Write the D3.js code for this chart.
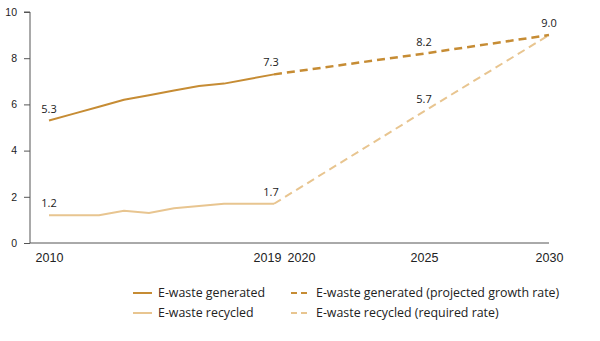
<!DOCTYPE html>
<html lang="en">
<head>
    <meta charset="UTF-8">
    <title>E-waste generated and recycled</title>
    <script src="https://d3js.org/d3.v7.min.js"></script>
    <style>
        body { margin: 0; background: #fff; }
        svg { font-family: "Open Sans", sans-serif; }
        .axis line, .axis path { stroke: #555; }
        .axis text { fill: #222; }
        .line { fill: none; }
        .label { fill: #1a1a1a; font-size: 11px; text-anchor: middle; }
        .legend text { fill: #222; font-size: 12.4px; }
    </style>
</head>
<body>
<div id="container"></div>
<script>
const width = 600, height = 341;

// kg per capita, 2010-2019
const years = [2010, 2011, 2012, 2013, 2014, 2015, 2016, 2017, 2018, 2019];
const generated = [5.3, 5.6, 5.9, 6.2, 6.4, 6.6, 6.8, 6.9, 7.1, 7.3];
const recycled = [1.2, 1.2, 1.2, 1.4, 1.3, 1.5, 1.6, 1.7, 1.7, 1.7];

// projections to 2030
const projYears = [2019, 2025, 2030];
const generatedProj = [7.3, 8.2, 9.0];
const recycledProj = [1.7, 5.7, 9.0];

const yTicks = [0, 2, 4, 6, 8, 10];
const xTickLabels = [2010, 2019, 2020, 2025, 2030];

const darkGold = "#c68c34", lightGold = "#e8c590";

const svg = d3.select("#container").append("svg")
    .attr("width", width)
    .attr("height", height);

const x = d3.scaleLinear().domain([2010, 2030]).range([49, 549]);
const y = d3.scaleLinear().domain([0, 10]).range([243, 12]);

// y axis
const yAxis = svg.append("g")
    .attr("class", "axis")
    .attr("transform", "translate(30,0)")
    .call(d3.axisLeft(y).tickValues(yTicks).tickSize(6).tickPadding(7));
yAxis.select(".domain").attr("d", `M-6,${y(10)}H0V${y(0)}`);
yAxis.selectAll("text").style("font-size", "10.5px");

// x axis: baseline plus year labels, no tick marks
const xAxis = svg.append("g")
    .attr("class", "axis")
    .attr("transform", `translate(0,${y(0)})`)
    .call(d3.axisBottom(x).tickValues(xTickLabels).tickSize(0).tickPadding(10).tickFormat(d3.format("d")));
xAxis.select(".domain").attr("d", `M30,0H${x(2030)}`);
xAxis.selectAll("text")
    .style("font-size", "12.5px")
    .attr("dx", d => d === 2019 ? -7 : d === 2020 ? 2 : 0);

const line = d3.line().x(d => x(d[0])).y(d => y(d[1]));

const series = [
    { xs: projYears, vals: recycledProj, color: lightGold, width: 2, dash: "8,5" },
    { xs: projYears, vals: generatedProj, color: darkGold, width: 2.5, dash: "8,5" },
    { xs: years, vals: recycled, color: lightGold, width: 2, dash: null },
    { xs: years, vals: generated, color: darkGold, width: 2, dash: null }
];

series.forEach(s => {
    svg.append("path")
        .attr("class", "line")
        .attr("d", line(s.xs.map((yr, i) => [yr, s.vals[i]])))
        .attr("stroke", s.color)
        .attr("stroke-width", s.width)
        .attr("stroke-dasharray", s.dash);
});

// value labels
const labelled = [
    [2010, generated[0]], [2019, generated[9]],
    [2010, recycled[0]], [2019, recycled[9]],
    [2025, generatedProj[1]], [2030, generatedProj[2]],
    [2025, recycledProj[1]]
];
svg.selectAll(".label")
    .data(labelled)
    .enter().append("text")
    .attr("class", "label")
    .attr("x", d => x(d[0]) - (d[0] === 2019 ? 3 : 0))
    .attr("y", d => y(d[1]) - 8)
    .text(d => d3.format(".1f")(d[1]));

// legend
const legendItems = [
    { label: "E-waste generated", color: darkGold, dash: null, col: 0, row: 0 },
    { label: "E-waste recycled", color: lightGold, dash: null, col: 0, row: 1 },
    { label: "E-waste generated (projected growth rate)", color: darkGold, dash: "6,4", col: 1, row: 0 },
    { label: "E-waste recycled (required rate)", color: lightGold, dash: "6,4", col: 1, row: 1 }
];
const legend = svg.append("g").attr("class", "legend");
const item = legend.selectAll("g")
    .data(legendItems)
    .enter().append("g")
    .attr("transform", d => `translate(${d.col ? 291 : 133},${293 + d.row * 20})`);
item.append("line")
    .attr("x1", 0).attr("x2", 19)
    .attr("stroke", d => d.color)
    .attr("stroke-width", 2)
    .attr("stroke-dasharray", d => d.dash);
item.append("text")
    .attr("x", 25)
    .attr("dy", "0.35em")
    .text(d => d.label);
</script>
</body>
</html>
